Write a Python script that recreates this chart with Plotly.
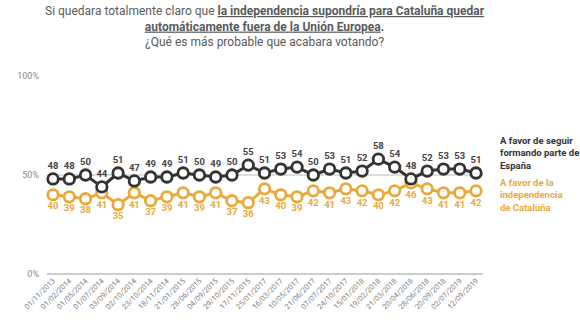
import plotly.graph_objects as go

dates = ["01/11/2013", "01/02/2014", "01/05/2014", "01/07/2014", "03/09/2014", "02/10/2014",
         "23/10/2014", "18/11/2014", "21/01/2015", "28/06/2015", "04/09/2015", "29/10/2015",
         "17/11/2015", "25/01/2017", "16/03/2017", "10/05/2017", "21/06/2017", "07/07/2017",
         "24/10/2017", "15/01/2018", "19/02/2018", "21/03/2018", "20/04/2018", "28/06/2018",
         "20/09/2018", "02/07/2019", "12/09/2019"]
espana = [48, 48, 50, 44, 51, 47, 49, 49, 51, 50, 49, 50, 55, 51, 53, 54, 50, 53, 51, 52,
          58, 54, 48, 52, 53, 53, 51]
indep = [40, 39, 38, 41, 35, 41, 37, 39, 41, 39, 41, 37, 36, 43, 40, 39, 42, 41, 43, 42,
         40, 42, 46, 43, 41, 41, 42]

DARK = "#333333"
ORANGE = "#EBA83A"
FONT = "Roboto"

x = list(range(len(dates)))

fig = go.Figure()
fig.add_trace(go.Scatter(
    x=x, y=indep, mode="lines+markers+text",
    line=dict(color=ORANGE, width=3),
    marker=dict(size=10.5, color="white", line=dict(color=ORANGE, width=2.8)),
    text=[str(v) for v in indep], textposition="bottom center",
    textfont=dict(family=FONT, size=9.5, color=ORANGE, weight="bold"),
    cliponaxis=False, hoverinfo="skip", showlegend=False))
fig.add_trace(go.Scatter(
    x=x, y=espana, mode="lines+markers+text",
    line=dict(color=DARK, width=3),
    marker=dict(size=10.5, color="white", line=dict(color=DARK, width=2.8)),
    text=[str(v) for v in espana], textposition="top center",
    textfont=dict(family=FONT, size=9.5, color="#444444", weight="bold"),
    cliponaxis=False, hoverinfo="skip", showlegend=False))

fig.update_layout(
    width=580, height=327,
    margin=dict(l=47, r=97, t=76, b=53),
    paper_bgcolor="white", plot_bgcolor="white",
    font=dict(family=FONT, color="#777777"),
    xaxis=dict(
        range=[-0.37, 26.43], tickmode="array", tickvals=x, ticktext=dates,
        tickangle=-45, tickfont=dict(size=7.5, color="#808080"),
        showgrid=False, zeroline=False, showline=False, ticks=""),
    yaxis=dict(
        range=[0, 100], tickvals=[0, 50, 100], ticktext=["0%", "50%", "100%"],
        tickfont=dict(size=9, color="#888888"), ticklabelstandoff=7,
        showgrid=True, gridcolor="#DDDDDD", gridwidth=1.5,
        zeroline=True, zerolinecolor="#CCCCCC", zerolinewidth=2, showline=False),
    annotations=[
        dict(xref="paper", yref="paper", x=0.5, y=1.375, xanchor="center", yanchor="top",
             align="center", showarrow=False,
             font=dict(family=FONT, size=12, color="#5A5A5A"),
             text=("Si quedara totalmente claro que <b><u>la independencia supondría para Cataluña quedar</u></b><br>"
                   "<b><u>automáticamente fuera de la Unión Europea</u></b><b>.</b><br>"
                   "¿Qué es más probable que acabara votando?")),
        dict(xref="paper", yref="paper", x=1.034, y=0.611, xanchor="left", yanchor="middle",
             align="left", showarrow=False,
             font=dict(family=FONT, size=9.5, color="#333333", weight="bold"),
             text="A favor de seguir<br>formando parte de<br>España"),
        dict(xref="paper", yref="paper", x=1.034, y=0.399, xanchor="left", yanchor="middle",
             align="left", showarrow=False,
             font=dict(family=FONT, size=9.5, color=ORANGE, weight="bold"),
             text="A favor de la<br>independencia<br>de Cataluña"),
    ],
)

fig.write_html("out.html")
